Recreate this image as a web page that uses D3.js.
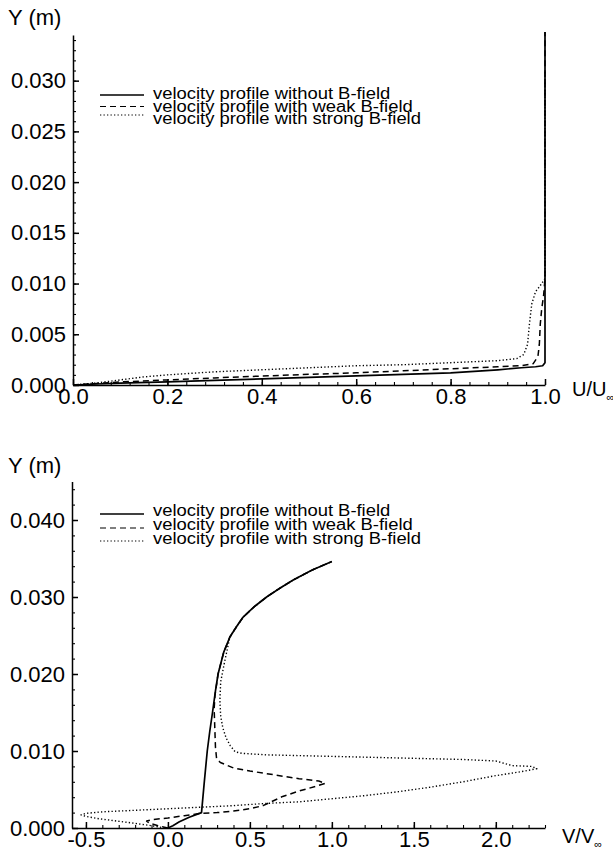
<!DOCTYPE html>
<html>
<head>
<meta charset="utf-8">
<script src="https://cdn.jsdelivr.net/npm/d3@7"></script>
<style>
  body { margin: 0; background: #fff; }
  svg { display: block; }
  text { font-family: "Liberation Sans", Arial, Helvetica, sans-serif; fill: #000; }
</style>
</head>
<body>
<svg id="chart" width="613" height="852"></svg>
<script>
// ---- legend ----
const legendLabels = [
  "velocity profile without B-field",
  "velocity profile with weak B-field",
  "velocity profile with strong B-field"
];

// ---- upper panel: streamwise velocity U/U∞ vs Y (m) ----
const uTicks = [0.0, 0.2, 0.4, 0.6, 0.8, 1.0];
const uYTicks = [0.000, 0.005, 0.010, 0.015, 0.020, 0.025, 0.030];

const uNoField = [
  [0, 0], [0.05, 0.0001], [0.1, 0.00018], [0.2, 0.0003], [0.3, 0.00045], [0.4, 0.0006],
  [0.5, 0.00075], [0.6, 0.0009], [0.7, 0.00105], [0.8, 0.0012], [0.9, 0.0015],
  [0.95, 0.0017], [0.98, 0.0018], [0.995, 0.0019], [1.0, 0.0022], [1.0, 0.0348]
];
const uWeakField = [
  [0, 0], [0.05, 0.00015], [0.1, 0.0003], [0.2, 0.0005], [0.3, 0.0007], [0.4, 0.00088],
  [0.5, 0.00105], [0.6, 0.0012], [0.7, 0.0014], [0.8, 0.0016], [0.9, 0.0018],
  [0.95, 0.0019], [0.975, 0.0021], [0.985, 0.0028], [0.988, 0.004], [0.99, 0.006],
  [0.993, 0.0075], [0.997, 0.0088], [1.0, 0.0105], [1.0, 0.0348]
];
const uStrongField = [
  [0, 0], [0.05, 0.0002], [0.1, 0.0005], [0.15, 0.0008], [0.2, 0.001], [0.3, 0.0013],
  [0.4, 0.0015], [0.5, 0.0017], [0.6, 0.0019], [0.7, 0.002], [0.8, 0.0022],
  [0.9, 0.0024], [0.94, 0.0026], [0.955, 0.003], [0.963, 0.004], [0.967, 0.006],
  [0.972, 0.008], [0.98, 0.0092], [0.99, 0.0098], [1.0, 0.0105], [1.0, 0.031]
];

// ---- lower panel: normal velocity V/V∞ vs Y (m) ----
const vTicks = [-0.5, 0.0, 0.5, 1.0, 1.5, 2.0];
const vYTicks = [0.000, 0.010, 0.020, 0.030, 0.040];

const vNoField = [
  [0, 0], [0.03, 0.0003], [0.07, 0.0008], [0.13, 0.0014], [0.18, 0.0018], [0.205, 0.002],
  [0.222, 0.006], [0.24, 0.010], [0.255, 0.0125], [0.272, 0.015], [0.29, 0.0178],
  [0.306, 0.020], [0.317, 0.0209], [0.34, 0.0228], [0.378, 0.0248], [0.42, 0.0262],
  [0.459, 0.0274], [0.53, 0.0288], [0.602, 0.030], [0.68, 0.0311], [0.764, 0.0322],
  [0.88, 0.0335], [1.0, 0.0346]
];
const vWeakField = [
  [0, 0], [-0.06, 0.0003], [-0.11, 0.0006], [-0.13, 0.0009], [-0.09, 0.0011],
  [0.0, 0.0013], [0.1, 0.0016], [0.2, 0.0019], [0.3, 0.002], [0.4, 0.0022],
  [0.5, 0.0025], [0.58, 0.0029], [0.62, 0.0033], [0.7, 0.0041], [0.8, 0.0048],
  [0.9, 0.0054], [0.96, 0.0058], [0.92, 0.0061], [0.8, 0.0064], [0.65, 0.0069],
  [0.5, 0.0074], [0.4, 0.0078], [0.32, 0.0085], [0.297, 0.009], [0.29, 0.0105],
  [0.286, 0.013], [0.282, 0.0155], [0.287, 0.0172], [0.306, 0.020], [0.317, 0.0209],
  [0.34, 0.0228], [0.378, 0.0248], [0.42, 0.0262], [0.459, 0.0274], [0.53, 0.0288],
  [0.602, 0.030], [0.68, 0.0311], [0.764, 0.0322], [0.88, 0.0335], [1.0, 0.0346]
];
const vStrongField = [
  [-0.02, 0], [-0.1, 0.0003], [-0.2, 0.0006], [-0.31, 0.0009], [-0.42, 0.0012],
  [-0.5, 0.0015], [-0.53, 0.0017], [-0.5, 0.0019], [-0.4, 0.0021], [-0.2, 0.0023],
  [0.0, 0.0025], [0.2, 0.0027], [0.4, 0.0029], [0.6, 0.0032], [0.8, 0.0034],
  [1.0, 0.0038], [1.2, 0.0042], [1.4, 0.0047], [1.6, 0.0053], [1.8, 0.006],
  [2.0, 0.0068], [2.15, 0.0073], [2.25, 0.0077], [2.22, 0.008], [2.1, 0.0081],
  [2.05, 0.0084], [2.0, 0.0087], [1.8, 0.0089], [1.6, 0.009], [1.4, 0.0091],
  [1.2, 0.0092], [1.0, 0.0093], [0.8, 0.0094], [0.6, 0.0095], [0.45, 0.0097],
  [0.41, 0.0099], [0.38, 0.0107], [0.355, 0.0117], [0.335, 0.013], [0.322, 0.0145],
  [0.317, 0.0165], [0.322, 0.019], [0.345, 0.0215], [0.378, 0.0248], [0.42, 0.0262],
  [0.459, 0.0274], [0.53, 0.0288], [0.602, 0.030], [0.68, 0.0311], [0.764, 0.0322],
  [0.88, 0.0335], [1.0, 0.0346]
];

// line styles shared by both panels and legends
const styles = [
  { width: 1.7, dash: null },
  { width: 1.5, dash: "6,4" },
  { width: 1.4, dash: "1.3,2.2" }
];

const svg = d3.select("#chart");
const fmt1 = d => d3.format(".1f")(d).replace("\u2212", "-");

function drawPanel(cfg) {
  const g = svg.append("g");
  const x = d3.scaleLinear().domain(cfg.xDomain).range(cfg.xRange);
  const y = d3.scaleLinear().domain(cfg.yDomain).range(cfg.yRange);
  const x0 = cfg.xRange[0], y0 = cfg.yRange[0];

  // minor ticks (inward)
  g.append("g").attr("class", "minor").attr("transform", `translate(0,${y0})`)
    .call(d3.axisBottom(x).tickValues(cfg.xMinor).tickSize(-3).tickFormat(""));
  g.append("g").attr("class", "minor").attr("transform", `translate(${x0},0)`)
    .call(d3.axisLeft(y).tickValues(cfg.yMinor).tickSize(-3).tickFormat(""));
  g.selectAll(".minor .domain").remove();

  // major ticks with labels
  const xa = g.append("g").attr("transform", `translate(0,${y0})`)
    .call(d3.axisBottom(x).tickValues(cfg.xTicks).tickSizeInner(-6).tickSizeOuter(0)
      .tickPadding(cfg.xPad).tickFormat(fmt1));
  const ya = g.append("g").attr("transform", `translate(${x0},0)`)
    .call(d3.axisLeft(y).tickValues(cfg.yTicks).tickSizeInner(-6).tickSizeOuter(0)
      .tickPadding(7).tickFormat(d3.format(".3f")));
  [xa, ya].forEach(a => {
    a.selectAll("text").style("font-size", "22px").attr("fill", "#000");
    a.attr("font-family", null).attr("font-size", null);
  });
  g.selectAll("path, line").attr("stroke", "#000").attr("stroke-width", 1.5);
  g.selectAll(".minor line").attr("stroke-width", 1.1);

  // axis titles
  g.append("text").attr("x", 8).attr("y", cfg.yTitleY)
    .style("font-size", "22px").text("Y (m)");
  const xt = g.append("text").attr("x", cfg.xTitleX).attr("y", cfg.xTitleY)
    .style("font-size", "20px");
  xt.append("tspan").text(cfg.xTitle);
  xt.append("tspan").attr("dy", 5).style("font-size", "11px").text("\u221E");

  // profiles
  const line = d3.line().x(d => x(d[0])).y(d => y(d[1]));
  cfg.series.forEach((s, i) => {
    g.append("path").datum(s)
      .attr("fill", "none").attr("stroke", "#000")
      .attr("stroke-width", styles[i].width)
      .attr("stroke-dasharray", styles[i].dash)
      .attr("stroke-linejoin", "round")
      .attr("d", line);
  });

  // legend: compact, horizontally widened lettering
  legendLabels.forEach((label, i) => {
    const ly = cfg.legendY + i * cfg.legendStep;
    g.append("line")
      .attr("x1", cfg.legendX).attr("x2", cfg.legendX + 44)
      .attr("y1", ly + cfg.sampleDy[i]).attr("y2", ly + cfg.sampleDy[i])
      .attr("stroke", "#000").attr("stroke-width", styles[i].width * 0.8)
      .attr("stroke-dasharray", styles[i].dash);
    const t = g.append("text").attr("x", cfg.legendX + 53).attr("y", ly)
      .style("font-size", "16px").text(label);
    const w = t.node().getComputedTextLength();
    t.attr("textLength", w * 1.15).attr("lengthAdjust", "spacingAndGlyphs");
  });
}

drawPanel({
  xDomain: [0, 1], xRange: [73, 545],
  yDomain: [0, 0.0345], yRange: [385, 35],
  xTicks: uTicks, xMinor: d3.range(0, 1.001, 0.04),
  yTicks: uYTicks, yMinor: d3.range(0, 0.0345, 0.001),
  xPad: 3,
  series: [uNoField, uWeakField, uStrongField],
  yTitleY: 25, xTitle: "U/U", xTitleX: 572, xTitleY: 396,
  legendX: 100, legendY: 99, legendStep: 12.5, sampleDy: [-4, -5, -9]
});

drawPanel({
  xDomain: [-0.585, 2.3], xRange: [72, 545],
  yDomain: [0, 0.045], yRange: [828, 481.5],
  xTicks: vTicks, xMinor: d3.range(-0.5, 2.301, 0.1),
  yTicks: vYTicks, yMinor: d3.range(0, 0.0451, 0.002),
  xPad: 3,
  series: [vNoField, vWeakField, vStrongField],
  yTitleY: 473, xTitle: "V/V", xTitleX: 562, xTitleY: 843,
  legendX: 100, legendY: 516, legendStep: 14, sampleDy: [-2, -2, -3]
});
</script>
</body>
</html>
